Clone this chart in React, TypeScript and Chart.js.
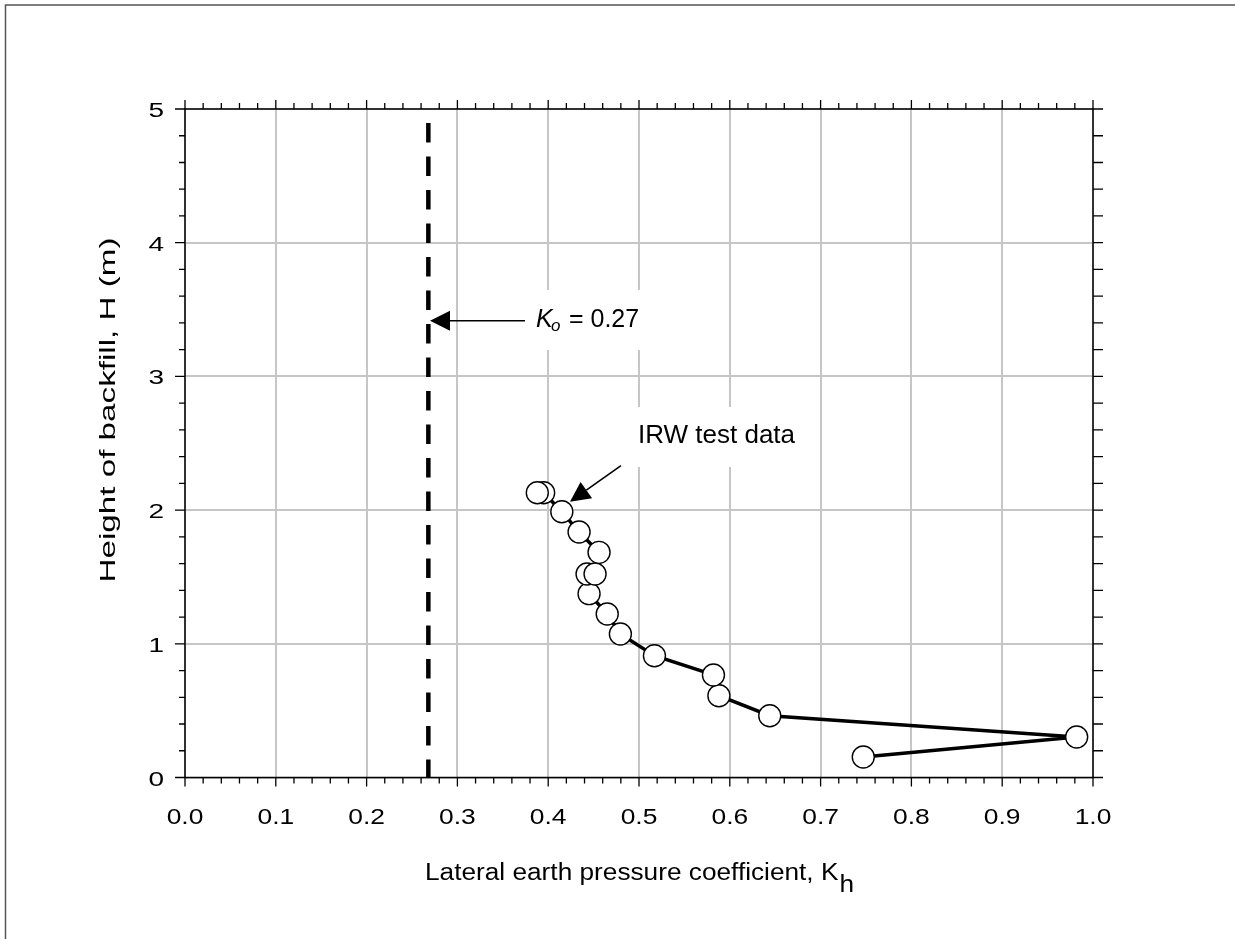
import React, { useEffect, useRef } from "react";
import { Chart, registerables } from "chart.js";

Chart.register(...registerables);

// ---- data ----
const kValues = [0.747, 0.982, 0.644, 0.588, 0.582, 0.517, 0.4795, 0.465, 0.445, 0.4428, 0.4516, 0.456, 0.434, 0.415, 0.395, 0.388];
const heights = [0.153, 0.303, 0.462, 0.612, 0.767, 0.911, 1.073, 1.223, 1.375, 1.522, 1.522, 1.684, 1.836, 1.988, 2.13, 2.13];
const koValue = 0.268;
const koLine = [5, 0];
const xTickValues = [0, 0.1, 0.2, 0.3, 0.4, 0.5, 0.6, 0.7, 0.8, 0.9, 1.0];
const xTickLabels = ["0.0", "0.1", "0.2", "0.3", "0.4", "0.5", "0.6", "0.7", "0.8", "0.9", "1.0"];
const yTickValues = [0, 1, 2, 3, 4, 5];
const yTickLabels = ["0", "1", "2", "3", "4", "5"];
const xTitle = "Lateral earth pressure coefficient, K";
const xTitleSub = "h";
const yTitle = "Height of backfill, H (m)";
const koLabel = ["K", "o", " = 0.27"];
const irwLabel = "IRW test data";

const FONT = "'Liberation Sans', Arial, Helvetica, sans-serif";

function stretchText(ctx: CanvasRenderingContext2D, text: string, x: number, y: number, font: string, sx: number, align: "left" | "center" | "right") {
  ctx.save();
  ctx.font = font;
  ctx.textBaseline = "alphabetic";
  ctx.textAlign = "left";
  const w = ctx.measureText(text).width;
  ctx.translate(x, y);
  ctx.scale(sx, 1);
  const dx = align === "center" ? -w / 2 : align === "right" ? -w : 0;
  ctx.fillText(text, dx, 0);
  ctx.restore();
}

function arrow(ctx: CanvasRenderingContext2D, x0: number, y0: number, x1: number, y1: number) {
  const ang = Math.atan2(y1 - y0, x1 - x0);
  const headLen = 20, headHalf = 10;
  const bx = x1 - Math.cos(ang) * headLen, by = y1 - Math.sin(ang) * headLen;
  ctx.save();
  ctx.strokeStyle = "#000";
  ctx.fillStyle = "#000";
  ctx.lineWidth = 1.6;
  ctx.beginPath();
  ctx.moveTo(x0, y0);
  ctx.lineTo(bx, by);
  ctx.stroke();
  ctx.beginPath();
  ctx.moveTo(x1, y1);
  ctx.lineTo(bx + Math.sin(ang) * headHalf, by - Math.cos(ang) * headHalf);
  ctx.lineTo(bx - Math.sin(ang) * headHalf, by + Math.cos(ang) * headHalf);
  ctx.closePath();
  ctx.fill();
  ctx.restore();
}

const boxesPlugin = {
  id: "boxes",
  beforeDatasetsDraw(chart: any) {
    const ctx = chart.ctx as CanvasRenderingContext2D;
    ctx.save();
    ctx.fillStyle = "#fff";
    ctx.fillRect(527, 290, 125, 60);
    ctx.fillRect(630, 407, 180, 60);
    ctx.restore();
  },
};

const decorPlugin = {
  id: "decor",
  afterDatasetsDraw(chart: any) {
    const ctx = chart.ctx as CanvasRenderingContext2D;
    const xs = chart.scales.x;
    const ys = chart.scales.y;
    const { left, right, top, bottom } = chart.chartArea;
    ctx.save();
    // page frame
    ctx.strokeStyle = "#555";
    ctx.lineWidth = 1.5;
    ctx.beginPath();
    ctx.moveTo(5.5, 939);
    ctx.lineTo(5.5, 5);
    ctx.lineTo(1235, 5);
    ctx.stroke();

    // axes frame
    ctx.strokeStyle = "#000";
    ctx.lineWidth = 1.5;
    ctx.strokeRect(left, top, right - left, bottom - top);

    // ticks
    ctx.lineWidth = 1.3;
    ctx.beginPath();
    for (let i = 0; i <= 50; i++) {
      const px = xs.getPixelForValue(i * 0.02);
      const len = i % 5 === 0 ? 9 : 6;
      ctx.moveTo(px, bottom);
      ctx.lineTo(px, bottom + len);
      ctx.moveTo(px, top);
      ctx.lineTo(px, top - len);
    }
    for (let j = 0; j <= 25; j++) {
      const py = ys.getPixelForValue(j * 0.2);
      const len = j % 5 === 0 ? 10 : 6;
      ctx.moveTo(left, py);
      ctx.lineTo(left - len, py);
      ctx.moveTo(right, py);
      ctx.lineTo(right + 10, py);
    }
    ctx.stroke();

    ctx.fillStyle = "#000";
    // x tick labels
    xTickValues.forEach((v, i) => {
      stretchText(ctx, xTickLabels[i], xs.getPixelForValue(v), 823.5, `22px ${FONT}`, 1.2, "center");
    });
    // y tick labels
    yTickValues.forEach((v, i) => {
      stretchText(ctx, yTickLabels[i], 164, ys.getPixelForValue(v) + 8, `20px ${FONT}`, 1.4, "right");
    });
    // x title
    {
      ctx.font = `23px ${FONT}`;
      const sx = 1.14;
      const w = ctx.measureText(xTitle).width * sx;
      const wh = ctx.measureText(xTitleSub).width * sx;
      const cx = (left + right) / 2;
      const startX = cx - (w + wh) / 2;
      stretchText(ctx, xTitle, startX, 880, `23px ${FONT}`, sx, "left");
      stretchText(ctx, xTitleSub, startX + w + 1, 892, `23px ${FONT}`, sx, "left");
    }
    // y title
    {
      ctx.save();
      ctx.translate(115, 410);
      ctx.rotate(-Math.PI / 2);
      ctx.font = `22px ${FONT}`;
      const w = ctx.measureText(yTitle).width;
      ctx.scale(345 / w, 1);
      ctx.fillText(yTitle, -w / 2, 0);
      ctx.restore();
    }

    // annotations
    ctx.fillStyle = "#000";
    ctx.textBaseline = "alphabetic";
    ctx.textAlign = "left";
    ctx.font = `italic 25px ${FONT}`;
    ctx.fillText(koLabel[0], 536, 327);
    ctx.font = `italic 17px ${FONT}`;
    ctx.fillText(koLabel[1], 551, 331);
    ctx.font = `25px ${FONT}`;
    ctx.fillText(koLabel[2], 562, 327);
    arrow(ctx, 525, 320.7, 430, 320.7);

    ctx.font = `26px ${FONT}`;
    ctx.fillText(irwLabel, 638, 443);
    arrow(ctx, 621, 465.7, 570, 501.7);

    ctx.restore();
  },
};

export default function App() {
  const ref = useRef<HTMLCanvasElement>(null);
  useEffect(() => {
    if (!ref.current) return;
    const chart = new Chart(ref.current, {
      type: "scatter",
      data: {
        datasets: [
          {
            label: "Ko",
            data: koLine.map((h) => ({ x: koValue, y: h })),
            showLine: true,
            borderColor: "#000",
            borderWidth: 4.5,
            borderDash: [19.5, 14],
            borderDashOffset: 19.5,
            pointRadius: 0,
            fill: false,
          },
          {
            label: "IRW test data",
            data: kValues.map((k, i) => ({ x: k, y: heights[i] })),
            showLine: true,
            borderColor: "#000",
            borderWidth: 3.5,
            pointRadius: 11,
            pointBackgroundColor: "#fff",
            pointBorderColor: "#000",
            pointBorderWidth: 1.4,
            fill: false,
            tension: 0,
          },
        ],
      },
      options: {
        responsive: false,
        animation: false,
        layout: { padding: { left: 185, right: 142, top: 109, bottom: 161.5 } },
        plugins: { legend: { display: false }, tooltip: { enabled: false } },
        scales: {
          x: {
            type: "linear",
            min: 0,
            max: 1,
            ticks: { display: false, stepSize: 0.1 },
            grid: { color: "#c6c6c6", lineWidth: 2, drawTicks: false },
            border: { display: false },
          },
          y: {
            type: "linear",
            min: 0,
            max: 5,
            ticks: { display: false, stepSize: 1 },
            grid: { color: "#c6c6c6", lineWidth: 2, drawTicks: false },
            border: { display: false },
          },
        },
      },
      plugins: [boxesPlugin, decorPlugin],
    } as any);
    return () => chart.destroy();
  }, []);
  return (
    <div style={{ position: "fixed", left: 0, top: 0, width: 1235, height: 939, background: "#fff" }}>
      <canvas ref={ref} width={1235} height={939} style={{ display: "block", width: 1235, height: 939 }} />
    </div>
  );
}
